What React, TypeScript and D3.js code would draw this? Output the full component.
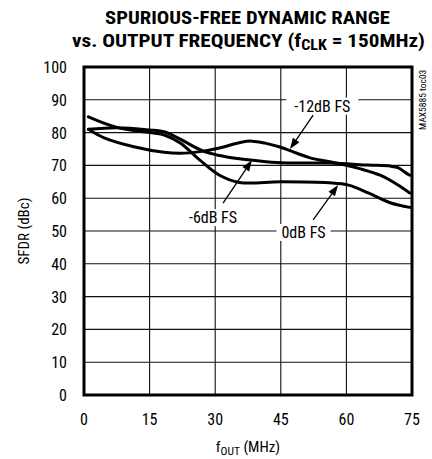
import React from 'react';
import * as d3 from 'd3';

type Pt = [number, number];

const xTicks = [0, 15, 30, 45, 60, 75];
const yTicks = [0, 10, 20, 30, 40, 50, 60, 70, 80, 90, 100];

const zeroDbFs: Pt[] = [
  [1, 84.8], [7.5, 81.6], [15, 80], [18.5, 79.2], [22, 76.8], [26.5, 71.6], [31, 67], [35.5, 64.8],
  [45, 65], [56, 64.7], [60.5, 64], [65, 61.6], [70, 58.6], [74.5, 57.2],
];
const minus6DbFs: Pt[] = [
  [1, 81], [7.5, 81.5], [15, 80.8], [18.5, 80.2], [22, 78], [27, 74.5], [31, 73], [35.5, 72],
  [38.5, 71.6], [45, 70.8], [56, 70.7], [65, 70.1], [70, 69.8], [71.8, 69.3], [73.5, 67.8], [74.5, 67],
];
const minus12DbFs: Pt[] = [
  [1, 81], [4.6, 78.4], [11.4, 75.7], [18.3, 74], [22, 73.7], [26.5, 74.2], [31, 75.3], [35.7, 77],
  [38.4, 77.4], [41.4, 76.8], [44.8, 75.6], [48.7, 73.7], [51.7, 72.3], [58.5, 70.5], [63, 69],
  [67.7, 67], [71.6, 64.2], [74.5, 61.6],
];

const labelText = ['-12dB FS', '-6dB FS', '0dB FS'];
const labelPos: Pt[] = [[54.5, 86.4], [29.5, 52.4], [50.2, 47.9]];
const arrowFrom: Pt[] = [[52.4, 85.3], [31.8, 58.5], [52.4, 53.4]];
const arrowTip: Pt[] = [[47.1, 75.0], [38.4, 71.6], [58.1, 64.0]];

const FONT = '"Liberation Sans Narrow", "Arial Narrow", "Roboto Condensed", sans-serif';

export default function App() {
  const W = 432, H = 459;
  const x = d3.scaleLinear().domain([0, 75]).range([84, 412]);
  const y = d3.scaleLinear().domain([0, 100]).range([395, 67]);
  const line = d3.line<Pt>().x(d => x(d[0])).y(d => y(d[1])).curve(d3.curveCatmullRom.alpha(0.5));
  const series = [zeroDbFs, minus6DbFs, minus12DbFs];
  const labelW = [64, 52, 46];

  return (
    <svg width={W} height={H} style={{ position: 'absolute', left: 0, top: 0, background: '#fff' }}
      fontFamily={FONT}>
      <text x={247.5} y={23.5} textAnchor="middle" fontSize={18.5} fontWeight="bold"
        textLength={285} lengthAdjust="spacingAndGlyphs">SPURIOUS-FREE DYNAMIC RANGE</text>
      <text x={248.5} y={46.5} textAnchor="middle" fontSize={18.5} fontWeight="bold"
        textLength={353} lengthAdjust="spacingAndGlyphs">
        vs. OUTPUT FREQUENCY (f<tspan fontSize={14} dy={3}>CLK</tspan><tspan dy={-3}> = 150MHz)</tspan>
      </text>
      {/* grid */}
      {xTicks.slice(1, -1).map(t => (
        <line key={'gx' + t} x1={x(t)} x2={x(t)} y1={y(0)} y2={y(100)} stroke="#111" strokeWidth={1.1} />
      ))}
      {yTicks.slice(1, -1).map(t => (
        <line key={'gy' + t} x1={x(0)} x2={x(75)} y1={y(t)} y2={y(t)} stroke="#111" strokeWidth={1.1} />
      ))}
      {/* label backgrounds */}
      {labelText.map((s, i) => (
        <rect key={'bg' + i} x={x(labelPos[i][0]) - labelW[i] / 2 - 4} y={y(labelPos[i][1]) - 14}
          width={labelW[i] + 8} height={17} fill="#fff" />
      ))}
      {/* curves */}
      {series.map((s, i) => (
        <path key={'s' + i} d={line(s) || ''} fill="none" stroke="#000" strokeWidth={3}
          strokeLinejoin="round" strokeLinecap="round" />
      ))}
      {/* labels and arrows */}
      {labelText.map((s, i) => {
        const x0 = x(arrowFrom[i][0]), y0 = y(arrowFrom[i][1]);
        const x1 = x(arrowTip[i][0]), y1 = y(arrowTip[i][1]);
        const a = Math.atan2(y1 - y0, x1 - x0);
        const L = 11, Wd = 4;
        const bx = x1 - L * Math.cos(a), by = y1 - L * Math.sin(a);
        const px = -Math.sin(a) * Wd, py = Math.cos(a) * Wd;
        return (
          <g key={'lab' + i}>
            <text x={x(labelPos[i][0])} y={y(labelPos[i][1])} textAnchor="middle" fontSize={16}>{s}</text>
            <line x1={x0} y1={y0} x2={bx} y2={by} stroke="#000" strokeWidth={1.3} />
            <path d={`M${x1},${y1}L${bx + px},${by + py}L${bx - px},${by - py}Z`} fill="#000" />
          </g>
        );
      })}
      {/* frame */}
      <rect x={x(0)} y={y(100)} width={x(75) - x(0)} height={y(0) - y(100)} fill="none" stroke="#000" strokeWidth={3} />
      {/* tick labels */}
      {yTicks.map(t => (
        <text key={'yl' + t} x={67} y={y(t) + 6} textAnchor="end" fontSize={16}>{t}</text>
      ))}
      {xTicks.map(t => (
        <text key={'xl' + t} x={x(t)} y={425} textAnchor="middle" fontSize={16}>{t}</text>
      ))}
      <text transform={`translate(29,${y(50)}) rotate(-90)`} textAnchor="middle" fontSize={15}>SFDR (dBc)</text>
      <text x={248} y={452} textAnchor="middle" fontSize={15}>
        f<tspan fontSize={11.5} dy={3}>OUT</tspan><tspan dy={-3}> (MHz)</tspan>
      </text>
      <text transform={`translate(426,${y(90)}) rotate(-90)`} textAnchor="middle" fontSize={9.5}>MAX5885 toc03</text>
    </svg>
  );
}
